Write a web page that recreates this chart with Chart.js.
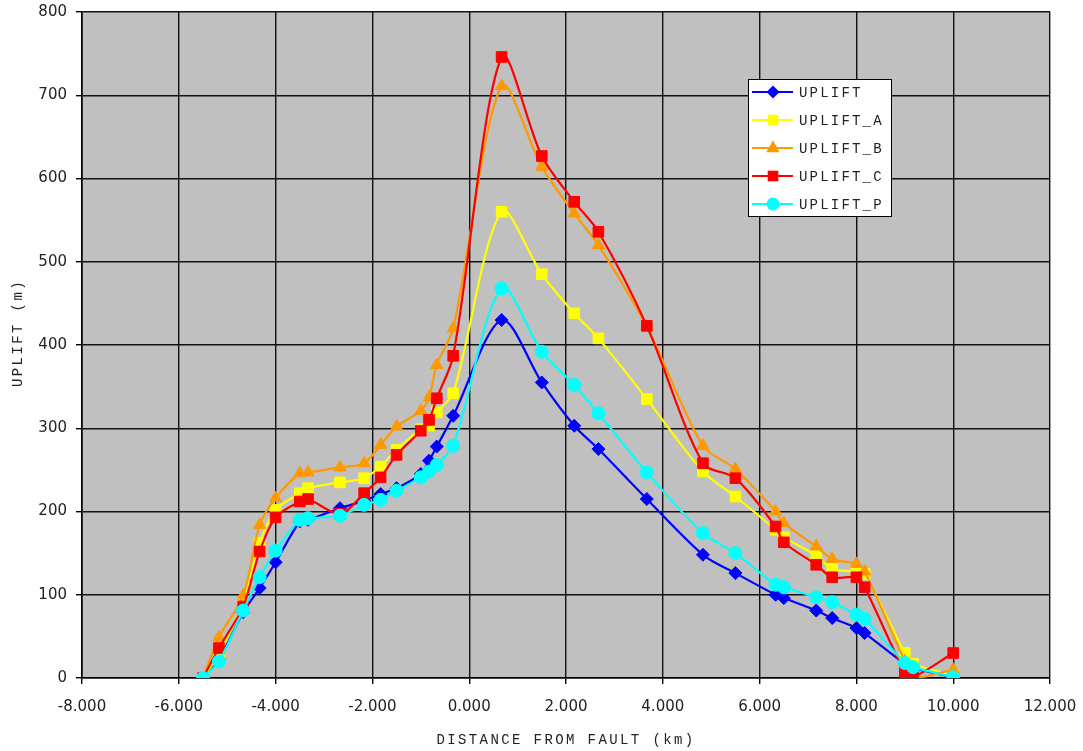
<!DOCTYPE html>
<html>
<head>
<meta charset="utf-8">
<script src="https://cdn.jsdelivr.net/npm/chart.js@4.4.1/dist/chart.umd.min.js"></script>
<style>
html,body{margin:0;padding:0;background:#ffffff;}
#wrap{width:1083px;height:751px;position:relative;}
</style>
</head>
<body>
<div id="wrap"><canvas id="c" width="1083" height="751"></canvas></div>
<script>
// ---- data ----
const distanceKm = [-5.5, -5.17, -4.67, -4.33, -4.0, -3.5, -3.33, -2.67, -2.17, -1.83, -1.5, -1.0, -0.83, -0.67, -0.33, 0.67, 1.5, 2.17, 2.67, 3.67, 4.83, 5.5, 6.33, 6.5, 7.17, 7.5, 8.0, 8.17, 9.0, 9.17, 10.0];
const uplift   = [0, 22, 79, 108, 139, 188, 190, 204, 213, 221, 228, 245, 261, 278, 315, 430, 355, 303, 275, 215, 148, 126, 100, 96, 81, 72, 60, 54, 17, 12, 1];
const upliftA  = [0, 29, 91, 162, 202, 222, 228, 235, 240, 254, 274, 299, 303, 319, 342, 560, 485, 438, 408, 335, 248, 218, 178, 169, 147, 131, 128, 125, 30, 17, 3];
const upliftB  = [0, 49, 99, 184, 216, 246, 247, 253, 258, 280, 302, 321, 337, 376, 420, 711, 614, 558, 520, 422, 279, 251, 200, 186, 158, 143, 137, 128, 20, 0, 10];
const upliftC  = [0, 36, 86, 152, 193, 212, 215, 197, 222, 241, 268, 297, 310, 336, 387, 746, 627, 572, 536, 423, 258, 240, 182, 163, 136, 121, 121, 109, 7, 1, 30];
const upliftP  = [0, 20, 81, 121, 153, 190, 192, 195, 208, 214, 225, 241, 248, 256, 279, 468, 392, 352, 318, 247, 174, 150, 112, 109, 97, 91, 76, 71, 18, 13, 1];
const seriesNames = ['UPLIFT', 'UPLIFT_A', 'UPLIFT_B', 'UPLIFT_C', 'UPLIFT_P'];
const xTitle = 'DISTANCE FROM FAULT (km)';
const yTitle = 'UPLIFT (m)';

// ---- styles ----
const colors = ['#0000FF', '#FFFF00', '#FF9900', '#FF0000', '#00FFFF'];
const markers = ['rectRot', 'rect', 'triangle', 'rect', 'circle'];
const radii = [6.5, 7.5, 7, 7.5, 6.5];
const seriesValues = [uplift, upliftA, upliftB, upliftC, upliftP];

const datasets = seriesValues.map((vals, i) => ({
  label: seriesNames[i],
  data: distanceKm.map((x, j) => ({x: x, y: vals[j]})),
  borderColor: colors[i],
  backgroundColor: colors[i],
  pointBackgroundColor: colors[i],
  pointBorderColor: colors[i],
  pointStyle: markers[i],
  pointRadius: radii[i],
  pointBorderWidth: 1,
  borderWidth: 2.2,
  tension: 0.3,
  fill: false,
  order: 5 - i
}));

const titleFont = '14px "Liberation Mono", "DejaVu Sans Mono", monospace';

const plotBg = {
  id: 'plotBg',
  beforeDraw(chart) {
    const {ctx, chartArea: a} = chart;
    ctx.save();
    ctx.fillStyle = '#C0C0C0';
    ctx.fillRect(a.left, a.top, a.right - a.left, a.bottom - a.top);
    ctx.restore();
  }
};

function drawMarker(ctx, style, x, y, r) {
  ctx.beginPath();
  if (style === 'rectRot') {
    ctx.moveTo(x - r, y); ctx.lineTo(x, y - r); ctx.lineTo(x + r, y); ctx.lineTo(x, y + r); ctx.closePath();
  } else if (style === 'rect') {
    const s = r * Math.SQRT1_2;
    ctx.rect(x - s, y - s, 2 * s, 2 * s);
  } else if (style === 'triangle') {
    ctx.moveTo(x, y - r * 1.1); ctx.lineTo(x + r * 0.95, y + r * 0.6); ctx.lineTo(x - r * 0.95, y + r * 0.6); ctx.closePath();
  } else {
    ctx.arc(x, y, r, 0, Math.PI * 2);
  }
  ctx.fill();
}

const annotations = {
  id: 'annotations',
  afterDraw(chart) {
    const {ctx, chartArea: a} = chart;
    ctx.save();
    ctx.font = titleFont;
    ctx.fillStyle = '#222';
    ctx.textBaseline = 'middle';
    ctx.textAlign = 'left';
    // x title
    ctx.letterSpacing = '2.4px';
    const xw = ctx.measureText(xTitle).width;
    ctx.fillText(xTitle, (a.left + a.right) / 2 - xw / 2, 740);
    // y title
    ctx.save();
    ctx.translate(18, (a.top + a.bottom) / 2 - 12);
    ctx.rotate(-Math.PI / 2);
    const yw = ctx.measureText(yTitle).width;
    ctx.fillText(yTitle, -yw / 2, 0);
    ctx.restore();
    // legend
    const lx = 748, ly = 79, lw = 143, lh = 137;
    ctx.fillStyle = '#FFFFFF';
    ctx.fillRect(lx, ly, lw, lh);
    ctx.strokeStyle = '#000';
    ctx.lineWidth = 1;
    ctx.strokeRect(lx + 0.5, ly + 0.5, lw, lh);
    ctx.letterSpacing = '2.2px';
    for (let i = 0; i < seriesNames.length; i++) {
      const ry = ly + 13 + i * 28;
      ctx.strokeStyle = colors[i];
      ctx.lineWidth = 2.2;
      ctx.beginPath();
      ctx.moveTo(lx + 4, ry); ctx.lineTo(lx + 45, ry);
      ctx.stroke();
      ctx.fillStyle = colors[i];
      drawMarker(ctx, markers[i], lx + 25, ry, radii[i]);
      ctx.fillStyle = '#222';
      ctx.fillText(seriesNames[i], lx + 51, ry + 1);
    }
    ctx.restore();
  }
};

new Chart(document.getElementById('c'), {
  type: 'line',
  data: {datasets: datasets},
  options: {
    responsive: false,
    animation: false,
    devicePixelRatio: 1,
    layout: {padding: {top: 12, right: 33, left: 0, bottom: 0}},
    plugins: {legend: {display: false}, tooltip: {enabled: false}},
    scales: {
      x: {
        type: 'linear',
        min: -8, max: 12,
        afterFit(scale) { scale.height = 73; scale.paddingLeft = 0; scale.paddingRight = 0; },
        ticks: {
          stepSize: 2,
          autoSkip: false,
          maxRotation: 0,
          padding: 14,
          color: '#222',
          font: {family: '"DejaVu Sans", Verdana, sans-serif', size: 15},
          callback: (v) => Number(v).toFixed(3)
        },
        grid: {color: '#111', lineWidth: 1.4, tickLength: 6, tickColor: '#000', drawTicks: true},
        border: {display: true, color: '#000', width: 1.6}
      },
      y: {
        min: 0, max: 800,
        afterFit(scale) { scale.width = 82; scale.paddingTop = 0; scale.paddingBottom = 0; },
        ticks: {
          stepSize: 100,
          padding: 9,
          color: '#222',
          font: {family: '"DejaVu Sans", Verdana, sans-serif', size: 15}
        },
        grid: {color: '#111', lineWidth: 1.4, tickLength: 6, tickColor: '#000', drawTicks: true},
        border: {display: true, color: '#000', width: 1.6}
      }
    }
  },
  plugins: [plotBg, annotations]
});
</script>
</body>
</html>
